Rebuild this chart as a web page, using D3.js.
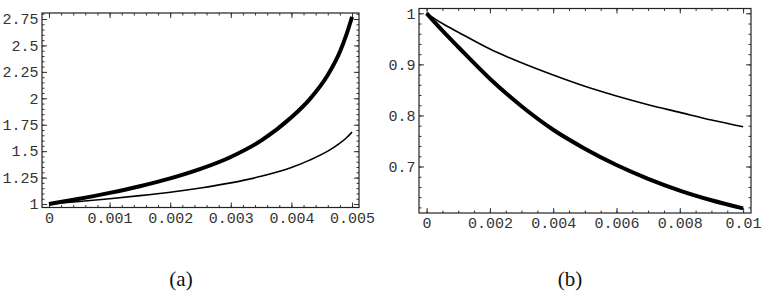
<!DOCTYPE html>
<html>
<head>
<meta charset="utf-8">
<script src="https://cdn.jsdelivr.net/npm/d3@7"></script>
<style>
  body { margin: 0; background: #fff; }
  .tick text { font-family: "Liberation Mono", "DejaVu Sans Mono", monospace; font-size: 15px; fill: #333; }
  .caption { font-family: "Liberation Serif", "DejaVu Serif", serif; font-size: 21px; fill: #111; }
</style>
</head>
<body>
<div id="chart"></div>
<script>
// panel (a) readings
var xA = [0, 0.0005, 0.001, 0.0015, 0.002, 0.0025, 0.003, 0.0035, 0.004, 0.0043, 0.0046, 0.0048, 0.0049, 0.005];
var thickA = [1, 1.05, 1.105, 1.168, 1.242, 1.332, 1.445, 1.6, 1.82, 1.99, 2.22, 2.44, 2.59, 2.77];
var thinA = [1, 1.024, 1.05, 1.079, 1.112, 1.152, 1.2, 1.262, 1.345, 1.415, 1.5, 1.575, 1.622, 1.68];
var xTicksA = [0, 0.001, 0.002, 0.003, 0.004, 0.005];
var xLabelsA = ["0", "0.001", "0.002", "0.003", "0.004", "0.005"];
var yTicksA = [1, 1.25, 1.5, 1.75, 2, 2.25, 2.5, 2.75];
var yLabelsA = ["1", "1.25", "1.5", "1.75", "2", "2.25", "2.5", "2.75"];

// panel (b) readings
var xB = [0, 0.0005, 0.001, 0.002, 0.003, 0.004, 0.005, 0.006, 0.007, 0.008, 0.009, 0.01];
var thickB = [1, 0.966, 0.934, 0.872, 0.818, 0.772, 0.735, 0.703, 0.676, 0.653, 0.634, 0.618];
var thinB = [1, 0.98, 0.963, 0.93, 0.903, 0.879, 0.857, 0.838, 0.821, 0.806, 0.791, 0.778];
var xTicksB = [0, 0.002, 0.004, 0.006, 0.008, 0.01];
var xLabelsB = ["0", "0.002", "0.004", "0.006", "0.008", "0.01"];
var yTicksB = [0.7, 0.8, 0.9, 1];
var yLabelsB = ["0.7", "0.8", "0.9", "1"];

var svg = d3.select("#chart").append("svg")
  .attr("width", 766)
  .attr("height", 302);

function minorTicks(domain, step) {
  var out = [];
  var start = Math.ceil(domain[0] / step - 1e-9);
  for (var i = start; i * step <= domain[1] + 1e-12; i++) out.push(+(i * step).toFixed(6));
  return out;
}

function drawPanel(p) {
  var x = d3.scaleLinear().domain(p.xDomain).range([p.left, p.right]);
  var y = d3.scaleLinear().domain(p.yDomain).range([p.bottom, p.top]);
  var g = svg.append("g");

  var xMinor = minorTicks(p.xDomain, p.xMinorStep);
  var yMinor = minorTicks(p.yDomain, p.yMinorStep);

  function fmt(ticks, labels) {
    return function(d) { return labels[ticks.indexOf(d)]; };
  }

  // bottom: labels + major, then minor
  g.append("g").attr("transform", `translate(0,${p.bottom})`)
    .call(d3.axisBottom(x).tickValues(p.xTicks).tickFormat(fmt(p.xTicks, p.xLabels))
      .tickSizeInner(-5).tickSizeOuter(0).tickPadding(4.5));
  g.append("g").attr("transform", `translate(0,${p.bottom})`)
    .call(d3.axisBottom(x).tickValues(xMinor).tickFormat("").tickSizeInner(-2.5).tickSizeOuter(0));
  // top
  g.append("g").attr("transform", `translate(0,${p.top})`)
    .call(d3.axisTop(x).tickValues(p.xTicks).tickFormat("").tickSizeInner(-5).tickSizeOuter(0));
  g.append("g").attr("transform", `translate(0,${p.top})`)
    .call(d3.axisTop(x).tickValues(xMinor).tickFormat("").tickSizeInner(-2.5).tickSizeOuter(0));
  // left
  g.append("g").attr("transform", `translate(${p.left},0)`)
    .call(d3.axisLeft(y).tickValues(p.yTicks).tickFormat(fmt(p.yTicks, p.yLabels))
      .tickSizeInner(-5).tickSizeOuter(0).tickPadding(3.5));
  g.append("g").attr("transform", `translate(${p.left},0)`)
    .call(d3.axisLeft(y).tickValues(yMinor).tickFormat("").tickSizeInner(-2.5).tickSizeOuter(0));
  // right
  g.append("g").attr("transform", `translate(${p.right},0)`)
    .call(d3.axisRight(y).tickValues(p.yTicks).tickFormat("").tickSizeInner(-5).tickSizeOuter(0));
  g.append("g").attr("transform", `translate(${p.right},0)`)
    .call(d3.axisRight(y).tickValues(yMinor).tickFormat("").tickSizeInner(-2.5).tickSizeOuter(0));

  g.selectAll(".domain").remove();
  g.selectAll(".tick line").attr("stroke", "#333");

  g.append("rect")
    .attr("x", p.left).attr("y", p.top)
    .attr("width", p.right - p.left).attr("height", p.bottom - p.top)
    .attr("fill", "none").attr("stroke", "#222").attr("stroke-width", 1.2);

  var line = d3.line()
    .x(d => x(d[0]))
    .y(d => y(d[1]))
    .curve(d3.curveMonotoneX);

  g.append("path")
    .datum(d3.zip(p.xs, p.thin))
    .attr("d", line)
    .attr("fill", "none").attr("stroke", "#000").attr("stroke-width", 1.6);

  g.append("path")
    .datum(d3.zip(p.xs, p.thick))
    .attr("d", line)
    .attr("fill", "none").attr("stroke", "#000").attr("stroke-width", 4);

  svg.append("text")
    .attr("class", "caption")
    .attr("x", p.capX).attr("y", 286)
    .attr("text-anchor", "middle")
    .text(p.caption);
}

drawPanel({
  left: 42, right: 359, top: 13, bottom: 207.5,
  xDomain: [-0.000115, 0.005115], yDomain: [0.967, 2.807],
  xTicks: xTicksA, xLabels: xLabelsA, yTicks: yTicksA, yLabels: yLabelsA,
  xMinorStep: 0.0002, yMinorStep: 0.05,
  xs: xA, thick: thickA, thin: thinA,
  caption: "(a)", capX: 181
});

drawPanel({
  left: 419, right: 751, top: 8.5, bottom: 213,
  xDomain: [-0.00024, 0.01025], yDomain: [0.609, 1.0094],
  xTicks: xTicksB, xLabels: xLabelsB, yTicks: yTicksB, yLabels: yLabelsB,
  xMinorStep: 0.0005, yMinorStep: 0.02,
  xs: xB, thick: thickB, thin: thinB,
  caption: "(b)", capX: 570
});
</script>
</body>
</html>
